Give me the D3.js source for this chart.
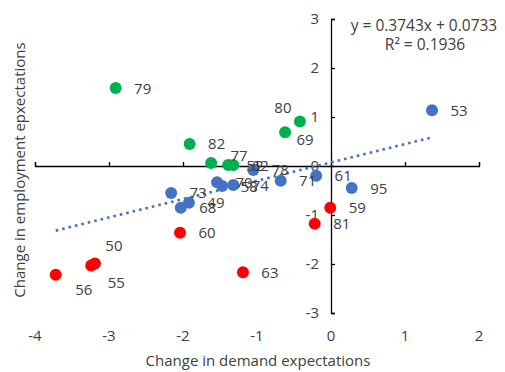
<!DOCTYPE html>
<html>
<head>
<meta charset="utf-8">
<script src="https://cdn.jsdelivr.net/npm/d3@7"></script>
<style>
  body { margin: 0; background: #fff; }
  svg text { font-family: "Open Sans", sans-serif; fill: #404040; }
</style>
</head>
<body>
<svg id="chart" width="505" height="372"></svg>
<script>
// series values (change in demand, change in employment)
const blueIds = ["53", "95", "61", "71", "78", "74", "58", "70", "73", "49", "68"];
const blueX = [1.365, 0.28, -0.20, -0.68, -1.05, -1.32, -1.47, -1.54, -2.16, -1.92, -2.03];
const blueY = [1.14, -0.45, -0.20, -0.30, -0.08, -0.39, -0.41, -0.33, -0.55, -0.75, -0.85];

const greenIds = ["79", "82", "80", "69", "77", "52", "62"];
const greenX = [-2.91, -1.91, -0.42, -0.62, -1.62, -1.39, -1.32];
const greenY = [1.59, 0.45, 0.91, 0.69, 0.06, 0.02, 0.02];

const redIds = ["56", "55", "50", "60", "63", "59", "81"];
const redX = [-3.72, -3.24, -3.19, -2.04, -1.19, -0.01, -0.22];
const redY = [-2.22, -2.03, -1.99, -1.36, -2.17, -0.85, -1.18];

const xTicks = [-4, -3, -2, -1, 0, 1, 2];
const yTicks = [-3, -2, -1, 0, 1, 2, 3];

const slope = 0.3743, intercept = 0.0733, r2 = 0.1936;

// labels that are not placed to the right of their marker
const labelShift = {
  "56": [28, 15], "55": [25, 17], "50": [19, -18],
  "69": [20, 7], "80": [-17, -14], "77": [28, -8]
};

const svg = d3.select("#chart");

const x = d3.scaleLinear().domain([-4, 2]).range([35, 479]);
const y = d3.scaleLinear().domain([-3, 3]).range([313, 19]);

// axes crossing at zero
const xAxis = d3.axisTop(x).tickValues(xTicks).tickSize(4).tickFormat("");
const gx = svg.append("g").attr("transform", `translate(0,${y(0)})`).call(xAxis);
const yAxis = d3.axisRight(y).tickValues(yTicks).tickSize(4).tickFormat("");
const gy = svg.append("g").attr("transform", `translate(${x(0)},0)`).call(yAxis);
[gx, gy].forEach(g => {
  g.select(".domain").attr("stroke", "#000").attr("stroke-width", 1.3);
  g.selectAll(".tick line").attr("stroke", "#000").attr("stroke-width", 1.3);
});

// tick labels
svg.append("g").selectAll("text")
  .data(xTicks)
  .join("text")
  .attr("x", d => x(d))
  .attr("y", 341)
  .attr("text-anchor", "middle")
  .style("font-size", "15px")
  .text(d => d);

svg.append("g").selectAll("text")
  .data(yTicks)
  .join("text")
  .attr("x", x(0) - 12)
  .attr("y", d => y(d) + 5)
  .attr("text-anchor", "end")
  .style("font-size", "15px")
  .text(d => d);

// axis titles
svg.append("text")
  .attr("x", 258).attr("y", 366)
  .attr("text-anchor", "middle")
  .style("font-size", "15px")
  .text("Change in demand expectations");

svg.append("text")
  .attr("transform", "translate(25,170) rotate(-90)")
  .attr("text-anchor", "middle")
  .style("font-size", "15px")
  .text("Change in employment epxectations");

// points
const series = [
  { color: "#4472C4", ids: blueIds, xs: blueX, ys: blueY },
  { color: "#00B050", ids: greenIds, xs: greenX, ys: greenY },
  { color: "#FF0000", ids: redIds, xs: redX, ys: redY }
];

const allPts = [];
series.forEach(s => {
  const pts = s.ids.map((id, i) => ({ id: id, x: s.xs[i], y: s.ys[i] }));
  pts.forEach(p => allPts.push(p));
  svg.append("g").selectAll("circle")
    .data(pts)
    .join("circle")
    .attr("cx", d => x(d.x))
    .attr("cy", d => y(d.y))
    .attr("r", 6)
    .attr("fill", s.color);
});

// linear trendline over the data range
const xMin = d3.min(allPts, d => d.x), xMax = d3.max(allPts, d => d.x);
svg.append("line")
  .attr("x1", x(xMin)).attr("y1", y(slope * xMin + intercept))
  .attr("x2", x(xMax)).attr("y2", y(slope * xMax + intercept))
  .attr("stroke", "#4472C4")
  .attr("stroke-width", 2.6)
  .attr("stroke-dasharray", "2.6,4");

// data labels
svg.append("g").selectAll("text")
  .data(allPts)
  .join("text")
  .attr("x", d => x(d.x) + (labelShift[d.id] ? labelShift[d.id][0] : 27))
  .attr("y", d => y(d.y) + (labelShift[d.id] ? labelShift[d.id][1] : 0) + 5.5)
  .attr("text-anchor", "middle")
  .style("font-size", "15px")
  .text(d => d.id);

// equation
svg.append("text")
  .attr("x", 424).attr("y", 31)
  .attr("text-anchor", "middle")
  .style("font-size", "15.5px")
  .text(`y = ${slope}x + ${intercept}`);
svg.append("text")
  .attr("x", 425).attr("y", 50)
  .attr("text-anchor", "middle")
  .style("font-size", "15.5px")
  .text(`R² = ${r2}`);
</script>
</body>
</html>
